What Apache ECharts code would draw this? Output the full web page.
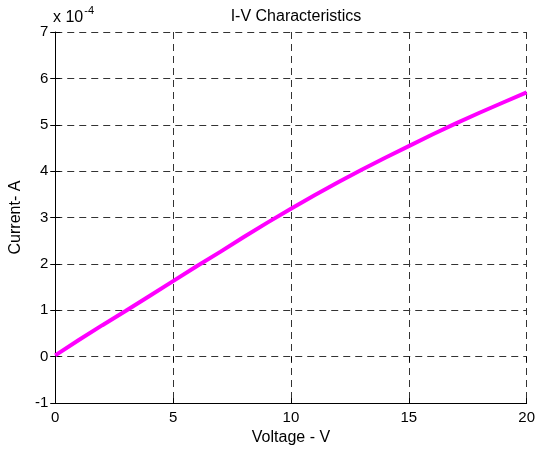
<!DOCTYPE html>
<html>
<head>
<meta charset="utf-8">
<script src="https://cdn.jsdelivr.net/npm/echarts@6/dist/echarts.min.js"></script>
<style>
  html, body { margin: 0; padding: 0; background: #fff; }
  #chart { width: 538px; height: 451px; }
</style>
</head>
<body>
<div id="chart"></div>
<script>
'use strict';
// voltage (V) and current (in units of 1e-4 A)
var voltage = [0, 1, 2, 3, 4, 5, 6, 7, 8, 9, 10, 11, 12, 13, 14, 15, 16, 17, 18, 19, 20];
var currentE4 = [0.03, 0.36, 0.68, 0.99, 1.31, 1.63, 1.95, 2.26, 2.58, 2.89, 3.19,
    3.48, 3.76, 4.03, 4.29, 4.54, 4.79, 5.03, 5.26, 5.48, 5.70];
var xTicks = [0, 5, 10, 15, 20];
var yTicks = [-1, 0, 1, 2, 3, 4, 5, 6, 7];

var font = 'Liberation Sans, Arial, sans-serif';

var myChart = echarts.init(document.getElementById('chart'));

var points = voltage.map(function (v, i) { return [v, currentE4[i]]; });

var gridLine = {
    show: true,
    lineStyle: { color: '#333', width: 1, type: [7, 5] }
};

var option = {
    animation: false,
    backgroundColor: '#fff',
    title: {
        text: 'I-V Characteristics',
        left: 291,
        textAlign: 'center',
        top: 4,
        textStyle: { fontFamily: font, fontSize: 16, fontWeight: 'normal', color: '#000' }
    },
    grid: { left: 54, right: 9, top: 32, bottom: 46, containLabel: false },
    graphic: [{
        type: 'text',
        left: 53,
        top: 5,
        style: {
            text: '{a|x 10}{b|-4}',
            rich: {
                a: { fontFamily: font, fontSize: 16, fill: '#000', verticalAlign: 'bottom', lineHeight: 20 },
                b: { fontFamily: font, fontSize: 11, fill: '#000', verticalAlign: 'top', padding: [0, 0, 10, 1] }
            }
        }
    }],
    xAxis: [{
        type: 'value',
        min: 0, max: 20, interval: 5,
        name: 'Voltage - V',
        nameLocation: 'middle',
        nameGap: 25,
        nameTextStyle: { fontFamily: font, fontSize: 16, color: '#000' },
        axisLine: { show: true, onZero: false, lineStyle: { color: '#000', width: 1 } },
        axisTick: { show: true, inside: true, length: 5, lineStyle: { color: '#000' } },
        axisLabel: { fontFamily: font, fontSize: 15, color: '#000', margin: 7,
            formatter: function (v) { return xTicks.indexOf(v) >= 0 ? String(v) : ''; } },
        splitLine: gridLine
    }, {
        type: 'value',
        position: 'top',
        min: 0, max: 20, interval: 5,
        axisLine: { show: false },
        axisTick: { show: true, inside: true, length: 5, lineStyle: { color: '#000' } },
        axisLabel: { show: false },
        splitLine: { show: false }
    }],
    yAxis: [{
        type: 'value',
        min: -1, max: 7, interval: 1,
        name: 'Current- A',
        nameLocation: 'middle',
        nameGap: 29,
        nameTextStyle: { fontFamily: font, fontSize: 16, color: '#000' },
        axisLine: { show: true, onZero: false, lineStyle: { color: '#000', width: 1 } },
        axisTick: { show: true, inside: true, length: 5, lineStyle: { color: '#000' } },
        axisLabel: { fontFamily: font, fontSize: 15, color: '#000', margin: 7,
            formatter: function (v) { return yTicks.indexOf(v) >= 0 ? String(v) : ''; } },
        splitLine: gridLine
    }, {
        type: 'value',
        position: 'right',
        min: -1, max: 7, interval: 1,
        axisLine: { show: false },
        axisTick: { show: true, inside: true, length: 5, lineStyle: { color: '#000' } },
        axisLabel: { show: false },
        splitLine: { show: false }
    }],
    series: [{
        type: 'line',
        data: points,
        showSymbol: false,
        smooth: false,
        lineStyle: { color: '#ff00ff', width: 4 },
        itemStyle: { color: '#ff00ff' }
    }]
};

myChart.setOption(option);
</script>
</body>
</html>
